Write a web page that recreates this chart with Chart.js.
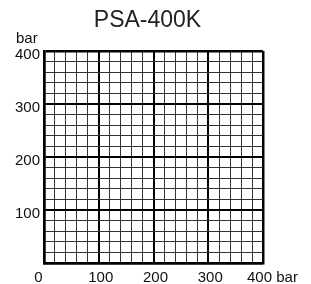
<!DOCTYPE html>
<html>
<head>
<meta charset="utf-8">
<script src="https://cdn.jsdelivr.net/npm/chart.js@4.4.1/dist/chart.umd.min.js"></script>
<style>
html,body{margin:0;padding:0;background:#fff;}
canvas{display:block;}
</style>
</head>
<body>
<canvas id="c" width="311" height="284"></canvas>
<script>
const titleText = 'PSA-400K';
const xUnit = 'bar';
const yUnit = 'bar';
const xTicks = [0, 100, 200, 300, 400];
const yTicks = [100, 200, 300, 400];
const axisMin = 0;
const axisMax = 400;
const minorStep = 20;
const majorStep = 100;

const FONT = '"Liberation Sans", Arial, sans-serif';

function gridColor(ctx) {
  const v = ctx.tick ? ctx.tick.value : 0;
  return v % majorStep === 0 ? '#000' : '#333';
}
function gridWidth(ctx) {
  const v = ctx.tick ? ctx.tick.value : 0;
  if (v === axisMax || v === axisMin) return 2.5;
  return v % majorStep === 0 ? 2 : 1;
}

const labelsPlugin = {
  id: 'axisLabels',
  afterDraw(chart) {
    const ctx = chart.ctx;
    const xs = chart.scales.x;
    const ys = chart.scales.y;
    const area = chart.chartArea;
    ctx.save();
    // title
    ctx.fillStyle = '#222';
    ctx.font = '23px ' + FONT;
    ctx.textAlign = 'center';
    ctx.textBaseline = 'middle';
    ctx.fillText(titleText, (area.left + area.right) / 2 - 6, 21);
    // x labels
    ctx.fillStyle = '#111';
    ctx.font = '15px ' + FONT;
    const ly = area.bottom + 15;
    xTicks.forEach((v, i) => {
      const px = xs.getPixelForValue(v);
      if (i === xTicks.length - 1) {
        ctx.textAlign = 'left';
        ctx.fillText(v + ' ' + xUnit, px - 16, ly);
      } else if (i === 0) {
        ctx.textAlign = 'center';
        ctx.fillText(String(v), px - 5.5, ly);
      } else {
        ctx.textAlign = 'center';
        ctx.fillText(String(v), px + 2, ly);
      }
    });
    ctx.textAlign = 'left';
    ctx.fillText(yUnit, area.left - 28, ys.getPixelForValue(axisMax) - 12);
    ctx.restore();
  }
};

new Chart(document.getElementById('c'), {
  type: 'scatter',
  data: { datasets: [{ data: [] }] },
  options: {
    responsive: false,
    animation: false,
    devicePixelRatio: 1,
    layout: { padding: { left: 0, right: 48, top: 51, bottom: 0 } },
    plugins: {
      legend: { display: false },
      tooltip: { enabled: false },
      title: { display: false }
    },
    scales: {
      x: {
        type: 'linear',
        min: axisMin,
        max: axisMax,
        ticks: { stepSize: minorStep, display: false },
        grid: { color: gridColor, lineWidth: gridWidth, drawTicks: false },
        border: { display: true, color: '#000', width: 2.5 },
        afterFit(s) { s.height = 21; }
      },
      y: {
        type: 'linear',
        min: axisMin,
        max: axisMax,
        ticks: {
          stepSize: minorStep,
          autoSkip: false,
          padding: 4,
          color: '#111',
          font: { family: FONT, size: 15 },
          labelOffset: 4,
          callback: (v) => yTicks.includes(v) ? String(v) : ''
        },
        grid: { color: gridColor, lineWidth: gridWidth, drawTicks: false },
        border: { display: true, color: '#000', width: 2.5 },
        afterFit(s) { s.width = 44; }
      }
    }
  },
  plugins: [labelsPlugin]
});
</script>
</body>
</html>
